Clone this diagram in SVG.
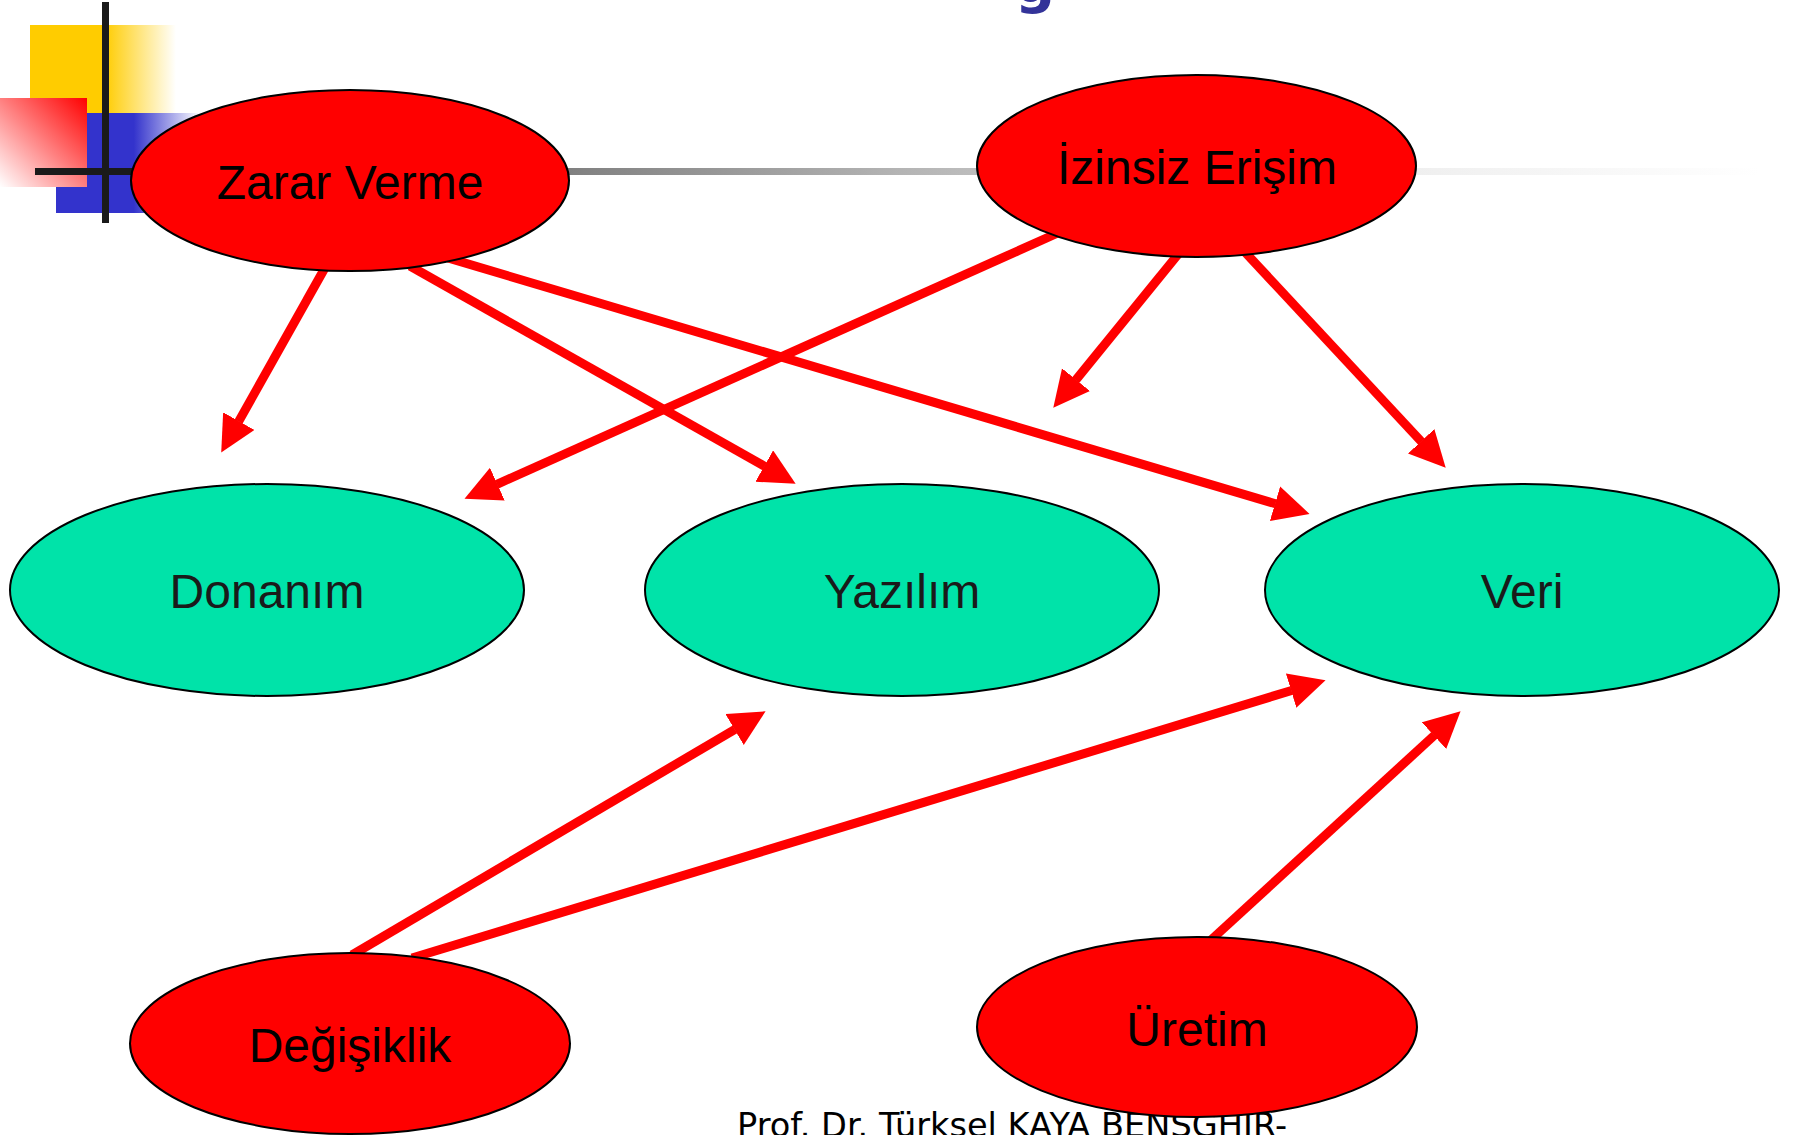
<svg xmlns="http://www.w3.org/2000/svg" width="1793" height="1135" viewBox="0 0 1793 1135">
  <style>
    .threat ellipse { fill: #ff0000; stroke: #000; stroke-width: 2; }
    .asset ellipse { fill: #00e3a9; stroke: #000; stroke-width: 2; }
    .threat text, .asset text { font-family: "Liberation Sans", Arial, sans-serif; font-size: 48px; text-anchor: middle; }
    .threat text { fill: #000; }
    .asset text { fill: #1a1a1a; }
    .link { stroke: #ff0000; stroke-width: 9; fill: none; marker-end: url(#head); }
    .footer { font-family: "DejaVu Sans", Verdana, sans-serif; font-size: 33px; fill: #000; }
    .title { font-family: "DejaVu Sans", Verdana, sans-serif; font-weight: bold; font-size: 56px; fill: #333399; }
  </style>
  <defs>
    <marker id="head" markerUnits="userSpaceOnUse" markerWidth="40" markerHeight="40" refX="0.5" refY="18" orient="auto">
      <path d="M0,0 L36,18 L0,36 Z" fill="#ff0000"/>
    </marker>
    <linearGradient id="yellowFade" x1="0" y1="0" x2="1" y2="0">
      <stop offset="0" stop-color="#ffcc00"/>
      <stop offset="0.51" stop-color="#ffcc00"/>
      <stop offset="1" stop-color="#ffffff"/>
    </linearGradient>
    <linearGradient id="blueFade" x1="0" y1="0" x2="1" y2="0">
      <stop offset="0" stop-color="#3333cc"/>
      <stop offset="0.54" stop-color="#3333cc"/>
      <stop offset="1" stop-color="#ffffff"/>
    </linearGradient>
    <linearGradient id="redFade" x1="1" y1="0" x2="0" y2="1">
      <stop offset="0" stop-color="#ff0000"/>
      <stop offset="1" stop-color="#ffffff"/>
    </linearGradient>
    <linearGradient id="ruleFade" gradientUnits="userSpaceOnUse" x1="110" y1="0" x2="1760" y2="0">
      <stop offset="0" stop-color="#404040"/>
      <stop offset="0.278" stop-color="#808080"/>
      <stop offset="0.479" stop-color="#b4b4b4"/>
      <stop offset="0.79" stop-color="#efefef"/>
      <stop offset="1" stop-color="#ffffff"/>
    </linearGradient>
  </defs>

  <rect width="1793" height="1135" fill="#ffffff"/>

  <!-- slide title, mostly above the visible area -->
  <text class="title" x="1015" y="2">g</text>

  <!-- template corner ornament and rule -->
  <g id="ornament">
    <rect x="30" y="25" width="146" height="88" fill="url(#yellowFade)"/>
    <rect x="56" y="113" width="144" height="100" fill="url(#blueFade)"/>
    <rect x="0" y="98" width="87" height="89" fill="url(#redFade)"/>
    <rect x="110" y="168" width="1650" height="7" fill="url(#ruleFade)"/>
    <rect x="35" y="168" width="110" height="7" fill="#1a1a1a"/>
    <rect x="102" y="2" width="7" height="221" fill="#1a1a1a"/>
  </g>

  <!-- footer -->
  <text class="footer" x="737" y="1137" textLength="550" lengthAdjust="spacingAndGlyphs">Prof. Dr. Türksel KAYA BENSGHIR-</text>

  <g id="connectors">
    <line class="link" x1="326" y1="266" x2="238.6" y2="421.6"/>
    <line class="link" x1="410" y1="266" x2="764.7" y2="466.3"/>
    <line class="link" x1="448" y1="258" x2="1275.5" y2="503.8"/>
    <line class="link" x1="1060" y1="232" x2="496.9" y2="484.3"/>
    <line class="link" x1="1180" y1="252" x2="1075.7" y2="380.1"/>
    <line class="link" x1="1243" y1="250" x2="1421.5" y2="441.7"/>
    <line class="link" x1="352" y1="955" x2="735" y2="729.3"/>
    <line class="link" x1="412" y1="958" x2="1291.6" y2="690.5"/>
    <line class="link" x1="1211" y1="940" x2="1434.4" y2="735.3"/>
  </g>

  <g id="zarar-verme" class="threat">
    <ellipse cx="350" cy="180.5" rx="219" ry="90.5"/>
    <text x="350" y="199">Zarar Verme</text>
  </g>
  <g id="izinsiz-erisim" class="threat">
    <ellipse cx="1196.5" cy="166" rx="219.5" ry="91"/>
    <text x="1197" y="184">İzinsiz Erişim</text>
  </g>
  <g id="donanim" class="asset">
    <ellipse cx="267" cy="590" rx="257" ry="106"/>
    <text x="267" y="608">Donanım</text>
  </g>
  <g id="yazilim" class="asset">
    <ellipse cx="902" cy="590" rx="257" ry="106"/>
    <text x="902" y="608">Yazılım</text>
  </g>
  <g id="veri" class="asset">
    <ellipse cx="1522" cy="590" rx="257" ry="106"/>
    <text x="1522" y="608">Veri</text>
  </g>
  <g id="degisiklik" class="threat">
    <ellipse cx="350" cy="1043.5" rx="220" ry="90.5"/>
    <text x="350" y="1062">Değişiklik</text>
  </g>
  <g id="uretim" class="threat">
    <ellipse cx="1197" cy="1027" rx="220" ry="90"/>
    <text x="1197" y="1046">Üretim</text>
  </g>
</svg>
